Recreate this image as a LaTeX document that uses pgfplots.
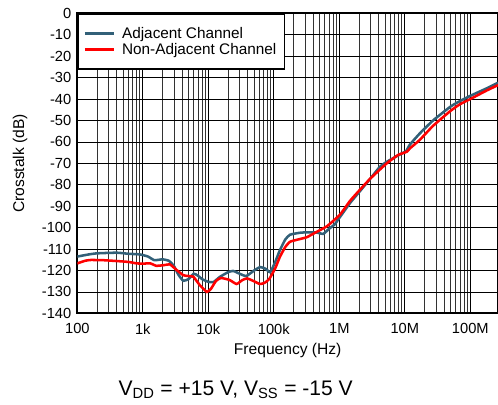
\documentclass[border=0pt]{standalone}
\usepackage{fontspec}
\setmainfont{Liberation Sans}
\usepackage{pgfplots}
\pgfplotsset{compat=1.18}
\definecolor{adjblue}{RGB}{50,96,120}
\begin{document}
\begin{tikzpicture}[x=1pt,y=1pt]
\path[use as bounding box] (-58pt,-68pt) rectangle (315.5pt,235pt);
\begin{axis}[
  at={(0,0)}, anchor=south west,
  scale only axis, width=315.5pt, height=225pt,
  xmode=log, xmin=100, xmax=2.65e8,
  ymin=-140, ymax=0,
  xtick={1e2,1e3,1e4,1e5,1e6,1e7,1e8},
  xticklabels={100,1k,10k,100k,1M,10M,100M},
  ytick={-140,-130,...,0},
  yticklabels={-140,-130,-120,-110,-100,-90,-80,-70,-60,-50,-40,-30,-20,-10,0},
  grid=both,
  major grid style={black, line width=0.6pt},
  minor grid style={black!80, line width=0.6pt},
  major tick length=0pt, minor tick length=0pt,
  axis line style={black, line width=1.5pt},
  tick label style={font=\fontsize{11}{12}\selectfont},
  xticklabel style={yshift=-4pt},
  yticklabel style={xshift=-1pt},
  label style={font=\fontsize{11.7}{13}\selectfont},
  xlabel={Frequency (Hz)},
  ylabel={Crosstalk (dB)},
  xlabel style={at={(rel axis cs:0.5,0)}, anchor=center, yshift=-27.5pt},
  ylabel style={at={(rel axis cs:0,0.5)}, anchor=center, yshift=43pt},
  legend style={at={(rel axis cs:0,1)}, anchor=north west, draw=black, line width=1.2pt,
    fill=white, font=\fontsize{11.5}{13}\selectfont, inner xsep=4pt, inner ysep=8.8pt,
    nodes={inner ysep=1pt}, row sep=0pt},
  legend cell align=left,
  legend image code/.code={\draw[#1, line width=2pt] (0pt,0pt) -- (22pt,0pt); \path (25pt,0pt);},
  clip=true,
]
\addplot[adjblue, line width=1.9pt, smooth, tension=0.3] coordinates {
(100,-113.5) (150,-112.5) (200,-112) (400,-111.7) (600,-112.2) (900,-112.5)
(1200,-113.5) (1500,-115.2) (2000,-114.8) (2500,-115.5) (3000,-118) (3500,-122)
(4150,-124.8) (5000,-124) (6000,-121.5) (7000,-122.5) (8000,-124) (10000,-125.3)
(12000,-125.4) (15000,-123) (20000,-120.8) (24000,-120.2) (30000,-121.5) (38000,-122.6)
(50000,-120) (62000,-118.4) (75000,-119.2) (88000,-120.8) (105000,-116) (124000,-110.5)
(150000,-105.5) (177000,-103.3) (250000,-102.4) (320000,-102.2) (450000,-102.3)
(570000,-102.9) (700000,-100.5) (850000,-98.5) (1.0e6,-95.5) (1.46e6,-88.5) (2e6,-83.5)
(3e6,-77) (4.17e6,-71.6) (5.3e6,-69.3) (7e6,-67.2) (8.5e6,-65.8) (10.5e6,-64.2)
(12e6,-61.2) (17e6,-56) (27e6,-50) (50e6,-43.5) (69e6,-41) (100e6,-38.5)
(178e6,-35) (265e6,-32.4)
};
\addlegendentry{Adjacent Channel}
\addplot[red, line width=1.9pt, smooth, tension=0.3] coordinates {
(100,-116.7) (130,-115.5) (160,-115.1) (250,-115.2) (400,-115.6) (600,-116)
(810,-116.7) (1000,-116.8) (1300,-116.7) (1600,-117.8) (2000,-117.6) (2600,-117.2)
(3200,-119.5) (4150,-122.2) (5000,-122.6) (5900,-122.9) (7400,-126.8) (9500,-130)
(11000,-128.5) (13000,-125) (15500,-123.5) (21000,-124.4) (27000,-126.3) (33000,-124.5)
(39000,-123.7) (48000,-124.8) (61000,-126.3) (72000,-125.8) (85000,-124) (105000,-119)
(124000,-113.6) (150000,-109) (177000,-106.6) (230000,-105.6) (317000,-104.5)
(450000,-102) (650000,-99.3) (1.02e6,-94) (1.46e6,-87.5) (2e6,-82.8) (3e6,-77)
(5.3e6,-70) (7.9e6,-66.1) (10.7e6,-64.6) (12e6,-63) (17e6,-59) (27e6,-52.5)
(50e6,-45.5) (69e6,-42.5) (100e6,-40) (178e6,-36) (265e6,-33.5)
};
\addlegendentry{Non-Adjacent Channel}
\end{axis}
\node[anchor=base west, font=\fontsize{15.8}{18}\selectfont, inner sep=0pt] at (30.75pt,-61.3pt)
  {V\textsubscript{DD} = +15 V, V\textsubscript{SS} = -15 V};
\end{tikzpicture}
\end{document}
